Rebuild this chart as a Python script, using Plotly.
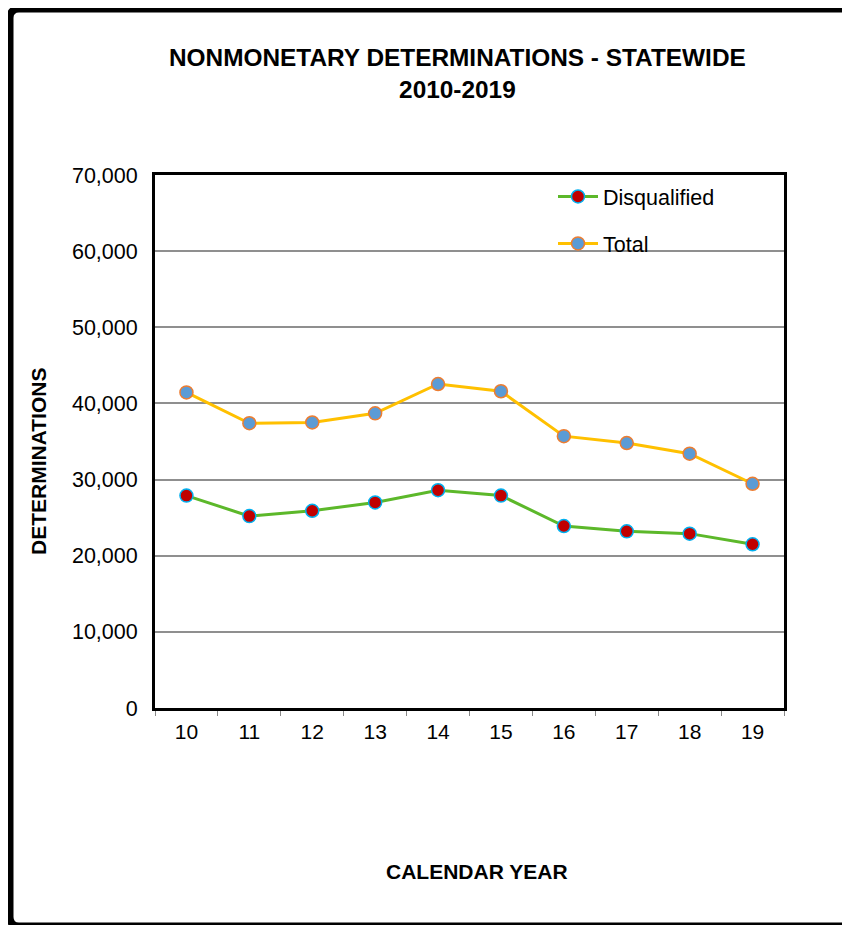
import plotly.graph_objects as go

years = ["10", "11", "12", "13", "14", "15", "16", "17", "18", "19"]
disqualified = [27900, 25200, 25900, 27000, 28600, 27900, 23900, 23200, 22900, 21500]
total = [41450, 37400, 37500, 38700, 42550, 41600, 35700, 34800, 33400, 29450]
y_ticks = [0, 10000, 20000, 30000, 40000, 50000, 60000, 70000]

# page body has an 8px margin, so the figure is 8px smaller and shifted
OFF = 8
W, H = 850 - OFF, 925 - OFF
L, R, T, B = 155, 784, 175, 708   # reference-screen coordinates of the plot area
pw, ph = R - L, B - T

def px(x):
    return (x - L) / pw

def py(y):
    return (B - y) / ph

FONT = "Liberation Sans, Arial, sans-serif"

fig = go.Figure()
fig.add_trace(go.Scatter(
    x=years, y=disqualified, name="Disqualified", mode="lines+markers",
    line=dict(color="#5cb82a", width=3),
    marker=dict(size=13, color="#c00000", line=dict(color="#00b0f0", width=1.5)),
    legendgroup="a",
))
fig.add_trace(go.Scatter(
    x=years, y=total, name="Total", mode="lines+markers",
    line=dict(color="#ffc000", width=3),
    marker=dict(size=13, color="#5b9bd5", line=dict(color="#ed7d31", width=1.5)),
    legendgroup="b",
))

# outer rounded border: open on the right (it runs off the page there)
r = 9
x0, y0, xr, y1 = 10, 9, 852, 926
def P(x, y):
    return f"{px(x)},{py(y)}"
path = (f"M {P(xr, y0)} L {P(x0 + r, y0)} Q {P(x0, y0)} {P(x0, y0 + r)} "
        f"L {P(x0, y1 - r)} Q {P(x0, y1)} {P(x0 + r, y1)} L {P(xr, y1)}")
fig.add_shape(type="path", xref="paper", yref="paper", path=path,
              line=dict(color="black", width=7), fillcolor="rgba(0,0,0,0)", layer="above")

fig.add_annotation(text="<b>NONMONETARY DETERMINATIONS - STATEWIDE</b><br><b>2010-2019</b>",
                   xref="paper", yref="paper", x=px(457.5), y=py(74), xanchor="center", yanchor="middle",
                   showarrow=False, font=dict(family=FONT, size=24.4, color="black"), align="center")
fig.add_annotation(text="<b>DETERMINATIONS</b>", textangle=-90,
                   xref="paper", yref="paper", x=px(38), y=py(462), xanchor="center", yanchor="middle",
                   showarrow=False, font=dict(family=FONT, size=21, color="black"))
fig.add_annotation(text="<b>CALENDAR YEAR</b>",
                   xref="paper", yref="paper", x=px(477), y=py(871), xanchor="center", yanchor="middle",
                   showarrow=False, font=dict(family=FONT, size=21, color="black"))

fig.update_layout(
    width=W, height=H,
    margin=dict(l=L - OFF, r=W - (R - OFF), t=T - OFF, b=H - (B - OFF), pad=0),
    paper_bgcolor="white", plot_bgcolor="white",
    font=dict(family=FONT, size=21, color="black"),
    showlegend=True,
    legend=dict(x=px(553), y=py(176), xanchor="left", yanchor="top",
                bgcolor="rgba(0,0,0,0)", font=dict(size=21.5, family=FONT, color="black"),
                tracegroupgap=16, itemwidth=40),
    xaxis=dict(type="category", range=[-0.5, 9.5], showline=True, linecolor="black",
               linewidth=3, mirror=True, ticks="outside", tickson="boundaries",
               ticklen=5, tickcolor="#888888", tickwidth=1, showgrid=False,
               tickfont=dict(size=21, family=FONT), ticklabelstandoff=3),
    yaxis=dict(range=[0, 70000], tickvals=y_ticks, tickformat=",", showline=True,
               linecolor="black", linewidth=3, mirror=True, ticks="",
               gridcolor="#8f8f8f", gridwidth=1.5, zeroline=False,
               tickfont=dict(size=21.5, family=FONT), ticklabelstandoff=10),
)

fig.write_html("out.html")
